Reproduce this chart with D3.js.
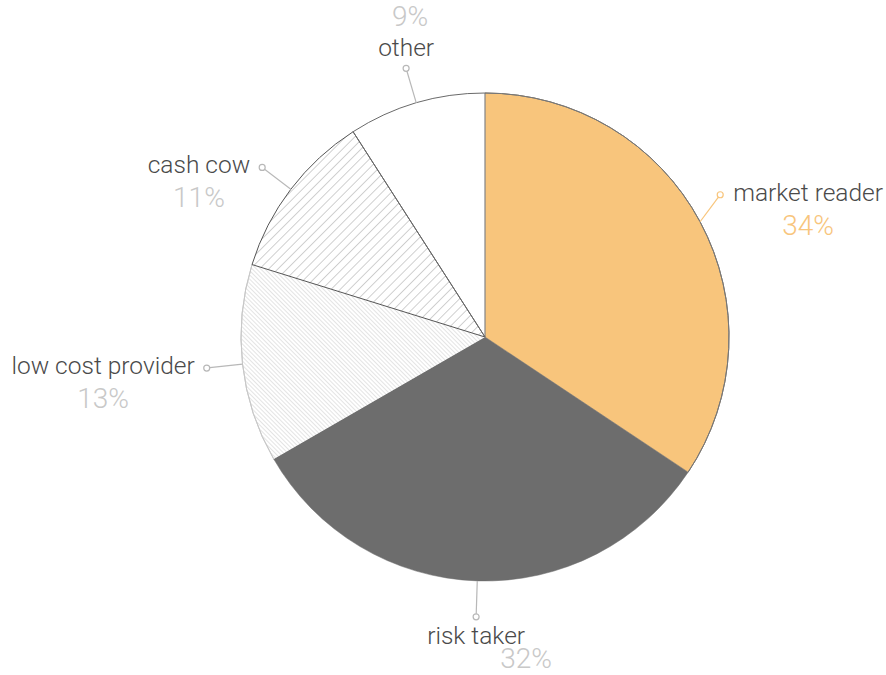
<!DOCTYPE html>
<html>
<head>
<meta charset="utf-8">
<script src="https://cdn.jsdelivr.net/npm/d3@7"></script>
<style>
  html, body { margin: 0; padding: 0; background: #fff; }
  svg { display: block; }
  text { font-family: Roboto, "Noto Sans", sans-serif; }
</style>
</head>
<body>
<svg id="chart" width="886" height="675"></svg>
<script>
// Market positioning survey: share of respondents per strategy type
const categories = ["market reader", "risk taker", "low cost provider", "cash cow", "other"];
const values = [34, 32, 13, 11, 9];
const percentLabels = ["34%", "32%", "13%", "11%", "9%"];

const width = 886, height = 675;
const cx = 485, cy = 337, radius = 244;

const svg = d3.select("#chart");
const defs = svg.append("defs");

// fine light hatch for the "low cost provider" slice
const fine = defs.append("pattern")
  .attr("id", "hatch-fine").attr("patternUnits", "userSpaceOnUse")
  .attr("width", 3).attr("height", 3)
  .attr("patternTransform", "rotate(-45)");
fine.append("rect").attr("width", 3).attr("height", 3).attr("fill", "#fff");
fine.append("line").attr("x1", 0).attr("y1", 0).attr("x2", 0).attr("y2", 3)
  .attr("stroke", "#c4c4c4").attr("stroke-width", 0.9);

// wider darker hatch for the "cash cow" slice
const wide = defs.append("pattern")
  .attr("id", "hatch-wide").attr("patternUnits", "userSpaceOnUse")
  .attr("width", 6.5).attr("height", 6.5)
  .attr("patternTransform", "rotate(45)");
wide.append("rect").attr("width", 6.5).attr("height", 6.5).attr("fill", "#fff");
wide.append("line").attr("x1", 0).attr("y1", 0).attr("x2", 0).attr("y2", 6.5)
  .attr("stroke", "#8a8a8a").attr("stroke-width", 0.8);

const fills = ["#f8c57c", "#6d6d6d", "url(#hatch-fine)", "url(#hatch-wide)", "#ffffff"];
const pctColors = ["#f8c57c", "#c8c8c8", "#c8c8c8", "#c8c8c8", "#c8c8c8"];
const leaderColors = ["#f8c57c", "#b8b8b8", "#b8b8b8", "#b8b8b8", "#b8b8b8"];

const pie = d3.pie().sort(null).value(d => d.value);
const data = categories.map((c, i) => ({ name: c, value: values[i], pct: percentLabels[i], i }));
const arcs = pie(data);

const arc = d3.arc().innerRadius(0).outerRadius(radius);
const g = svg.append("g").attr("transform", `translate(${cx},${cy})`);

// slice fills
g.selectAll("path.slice").data(arcs).join("path")
  .attr("class", "slice")
  .attr("d", arc)
  .attr("fill", d => fills[d.data.i])
  .attr("stroke", d => fills[d.data.i].startsWith("#") ? fills[d.data.i] : "none")
  .attr("stroke-width", 0.5);

// outer rims for the solid and light slices
const rimColor = { 0: "#777", 2: "#c8c8c8" };
const rim = d3.arc().innerRadius(radius).outerRadius(radius);
g.selectAll("path.rim").data(arcs.filter(d => rimColor[d.data.i] !== undefined)).join("path")
  .attr("class", "rim")
  .attr("d", rim)
  .attr("fill", "none")
  .attr("stroke", d => rimColor[d.data.i])
  .attr("stroke-width", 1);

// full outlines for the hatched and white slices
const outline = { 4: "#6a6a6a", 3: "#555" };
g.selectAll("path.outline").data(arcs.filter(d => outline[d.data.i] !== undefined)).join("path")
  .attr("class", "outline")
  .attr("d", arc)
  .attr("fill", "none")
  .attr("stroke", d => outline[d.data.i])
  .attr("stroke-width", 1);

// leader lines and labels
const dotR = radius + 36;
const labels = g.selectAll("g.label").data(arcs).join("g").attr("class", "label");

labels.each(function(d) {
  const sel = d3.select(this);
  const a = (d.startAngle + d.endAngle) / 2;
  const sx = Math.sin(a), sy = -Math.cos(a);
  const x0 = sx * radius, y0 = sy * radius;
  let dx = sx * dotR, dy = sy * dotR;
  const col = leaderColors[d.data.i];

  const leader = sel.append("line")
    .attr("stroke", col).attr("stroke-width", 1.2);
  const dot = sel.append("circle")
    .attr("r", 3)
    .attr("fill", "#fff").attr("stroke", col).attr("stroke-width", 1.2);

  const name = sel.append("text")
    .text(d.data.name)
    .attr("fill", "#4a4a4a")
    .attr("font-size", 24.5)
    .attr("font-weight", 300);
  const pct = sel.append("text")
    .text(d.data.pct)
    .attr("fill", pctColors[d.data.i])
    .attr("font-size", 28)
    .attr("font-weight", 300)
    .attr("text-anchor", "middle");

  if (Math.abs(sx) < 0.35) {
    // labels above or below the pie
    name.attr("text-anchor", "middle").attr("x", dx);
    if (sy < 0) {
      name.attr("y", dy - 12);
      pct.attr("x", dx + 4).attr("y", dy - 42);
    } else {
      name.attr("y", dy + 27);
      pct.attr("x", dx + 50).attr("y", dy + 51);
    }
  } else {
    const right = sx > 0;
    name.attr("text-anchor", "start").attr("y", dy + 6);
    const w = name.node().getComputedTextLength();
    // keep side labels inside the drawing area; pull the dot in with them
    let left = right ? dx + 13 : dx - 12 - w;
    if (right && left + w > width - cx - 3) {
      left = width - cx - w - 3;
      dx = left - 13;
      dy -= 10;
      name.attr("y", dy + 6);
    }
    name.attr("x", left);
    pct.attr("x", left + w / 2).attr("y", dy + 40);
  }

  // leader from the rim toward the dot, stopping at the dot's edge
  const len = Math.hypot(dx - x0, dy - y0);
  const ux = (dx - x0) / len, uy = (dy - y0) / len;
  leader.attr("x1", x0).attr("y1", y0)
    .attr("x2", dx - ux * 3).attr("y2", dy - uy * 3);
  dot.attr("cx", dx).attr("cy", dy);
});
</script>
</body>
</html>
